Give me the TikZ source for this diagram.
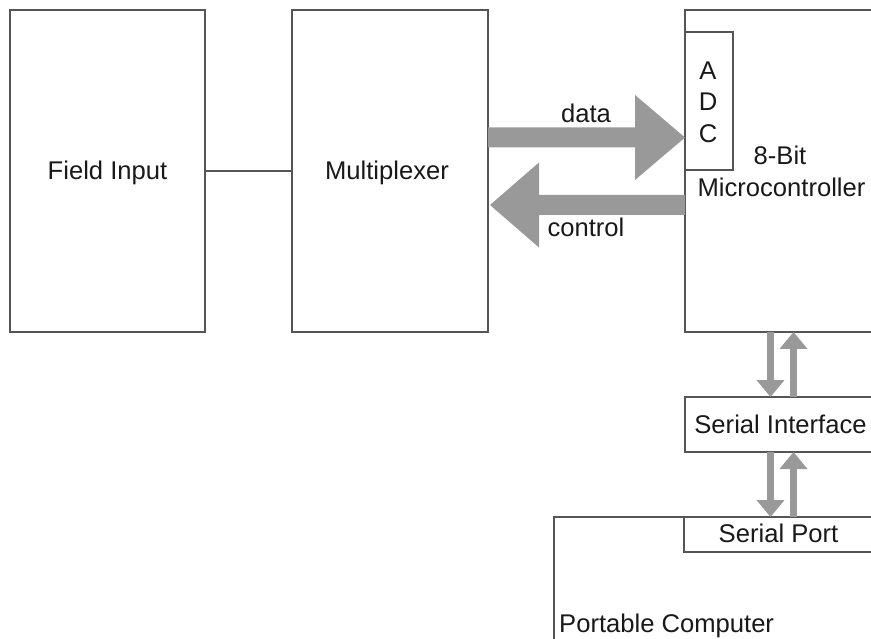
\documentclass[tikz,border=0pt]{standalone}
\usepackage{fontspec}
\setmainfont{Liberation Sans}
\usetikzlibrary{arrows.meta,calc}
\definecolor{edge}{RGB}{85,85,85}
\definecolor{flow}{RGB}{153,153,153}
\definecolor{ink}{RGB}{25,25,25}
\begin{document}
\begin{tikzpicture}[x=1pt,y=-1pt,
  box/.style={draw=edge,line width=1.3pt,inner sep=0pt,outer sep=0pt,fill=white},
  txt/.style={text=ink,font=\fontsize{25.6}{30}\selectfont,inner sep=0pt,anchor=base},
  sarrow/.style={draw=flow,line width=6.5pt,-{Triangle[width=27pt,length=17pt]}}]
\useasboundingbox (0,0) rectangle (871,639);
\clip (0,0) rectangle (871,639);
\fill[white] (0,0) rectangle (871,639);

% blocks
\node[box,minimum width=195pt,minimum height=322pt] (fi)  at (107.5,171) {};
\node[box,minimum width=196pt,minimum height=322pt] (mux) at (390,171) {};
\node[box,minimum width=195pt,minimum height=322pt] (mc)  at (782.5,171) {};
\node[box,minimum width=48pt,minimum height=138pt]  (adc) at (709,101) {};
\node[box,minimum width=195pt,minimum height=55pt]  (si)  at (782.5,424.5) {};
\node[box,minimum width=346pt,minimum height=183pt] (pc)  at (727,608.5) {};
\node[box,minimum width=196pt,minimum height=35pt]  (sp)  at (782,534.5) {};

% field input to multiplexer
\draw[edge,line width=1.3pt] (fi.east) -- (mux.west);

% wide data arrow (multiplexer -> ADC)
\coordinate (dS) at ($(mux.east)+(0,-33.5)$);
\coordinate (dE) at (adc.west |- dS);
\fill[flow] ($(dS)+(0,-10)$) -- ($(dE)+(-50,-10)$) -- ($(dE)+(-50,-42.5)$)
  -- (dE) -- ($(dE)+(-50,42.5)$) -- ($(dE)+(-50,10)$) -- ($(dS)+(0,10)$) -- cycle;

% wide control arrow (microcontroller -> multiplexer)
\coordinate (cS) at ($(mc.west)+(0,34)$);
\coordinate (cE) at ($(mux.east |- cS)+(2,0)$);
\fill[flow] ($(cS)+(0,-10)$) -- ($(cE)+(49,-10)$) -- ($(cE)+(49,-42.5)$)
  -- (cE) -- ($(cE)+(49,42.5)$) -- ($(cE)+(49,10)$) -- ($(cS)+(0,10)$) -- cycle;

% serial links
\coordinate (xd) at (770.5,0);
\coordinate (xu) at (793.5,0);
\draw[sarrow] (mc.south -| xd) -- (si.north -| xd);
\draw[sarrow] (si.north -| xu) -- (mc.south -| xu);
\draw[sarrow] (si.south -| xd) -- (sp.north -| xd);
\draw[sarrow] (sp.north -| xu) -- (si.south -| xu);

% labels
\node[txt] (tfi)  at (107.5,179.5) {Field Input};
\node[txt] (tmux) at (387,179.5) {Multiplexer};
\node[txt] (tdat) at (586,123) {data};
\node[txt] (tctl) at (586,237) {control};
\node[txt] (ta)   at (708,80) {A};
\node[txt] (td)   at (708,111) {D};
\node[txt] (tc)   at (708,143) {C};
\node[txt] (tbit) at (780,165) {8-Bit};
\node[txt] (tmc)  at (781.5,197) {Microcontroller};
\node[txt] (tsi)  at (780.5,433) {Serial Interface};
\node[txt] (tsp)  at (778.5,542) {Serial Port};
\node[txt,anchor=base west] (tpc) at (559,632) {Portable Computer};
\end{tikzpicture}
\end{document}
